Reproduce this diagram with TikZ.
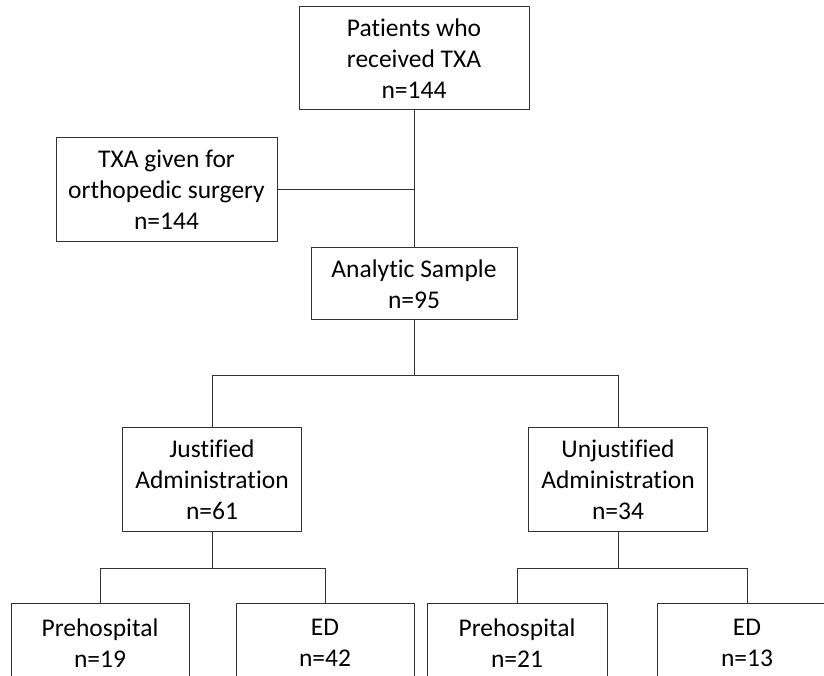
\documentclass[tikz,border=0pt]{standalone}
\usepackage{fontspec}
\setmainfont{Carlito}[RawFeature=-liga]
\usetikzlibrary{calc}

\tikzset{
  box/.style={draw=black!80, line width=1pt, align=center, inner sep=0pt,
    font=\fontsize{25.5}{31}\selectfont},
  link/.style={draw=black!80, line width=1pt}
}

\begin{document}
\begin{tikzpicture}[x=1pt, y=1pt]
  \useasboundingbox (0,0) rectangle (824,676);
  \clip (0,0) rectangle (824,676);
  \fill[white] (0,0) rectangle (824,676);
  \node[box, minimum width=230, minimum height=103] (top) at (414,617.5)
    {Patients who\\received TXA\\n=144};
  \node[box, minimum width=221, minimum height=104] (ortho) at (166.5,486)
    {TXA given for\\orthopedic surgery\\n=144};
  \node[box, minimum width=206, minimum height=72] (sample) at (414,392)
    {Analytic Sample\\n=95};
  \node[box, minimum width=179, minimum height=104] (just) at (212,196)
    {Justified\\Administration\\n=61};
  \node[box, minimum width=179, minimum height=104] (unjust) at (618,196)
    {Unjustified\\Administration\\n=34};
  \node[box, minimum width=178, minimum height=78] (preA) at (100,33)
    {Prehospital\\n=19};
  \node[box, minimum width=178, minimum height=78] (edA) at (325,33)
    {ED\\n=42};
  \node[box, minimum width=180, minimum height=78] (preB) at (517,33)
    {Prehospital\\n=21};
  \node[box, minimum width=180, minimum height=78] (edB) at (747,33)
    {ED\\n=13};
  \coordinate (J) at (top.south |- ortho.east);
  \coordinate (S) at ($(sample.south)+(0,-55)$);
  \coordinate (SA) at ($(just.south)+(0,-36)$);
  \coordinate (SB) at ($(unjust.south)+(0,-36)$);
  \draw[link] (top) -- (sample);
  \draw[link] (ortho.east) -- (J);
  \draw[link] (sample.south) -- (S);
  \draw[link] (just.north) |- (S) -| (unjust.north);
  \draw[link] (just.south) -- (SA);
  \draw[link] (preA.north) |- (SA) -| (edA.north);
  \draw[link] (unjust.south) -- (SB);
  \draw[link] (preB.north) |- (SB) -| (edB.north);
\end{tikzpicture}
\end{document}
